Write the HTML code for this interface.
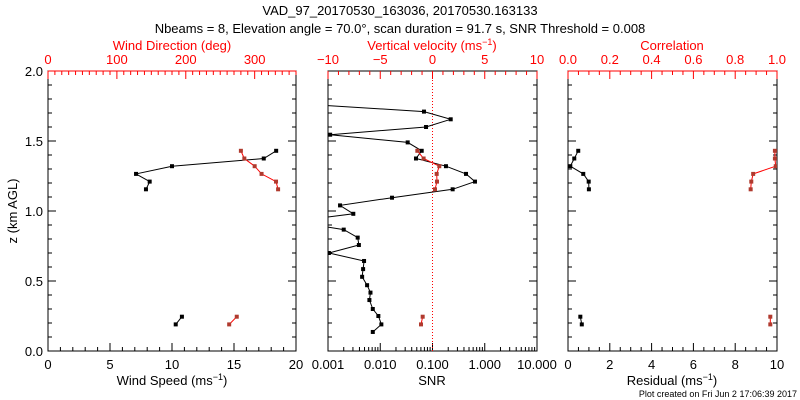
<!DOCTYPE html>
<html><head><meta charset="utf-8"><style>
html,body{margin:0;padding:0;background:#fff;}
svg{display:block;font-family:"Liberation Sans",sans-serif;}
text{font-size:13px;}
</style></head><body>
<svg id="c" width="800" height="400" xmlns="http://www.w3.org/2000/svg">
<text x="400" y="15" text-anchor="middle">VAD_97_20170530_163036, 20170530.163133</text>
<text x="400" y="33" text-anchor="middle">Nbeams = 8, Elevation angle = 70.0°, scan duration = 91.7 s, SNR Threshold = 0.008</text>
<text x="17" y="211" text-anchor="middle" transform="rotate(-90 17 211)">z (km AGL)</text>
<text x="797" y="397" text-anchor="end" style="font-size:9px">Plot created on Fri Jun  2 17:06:39 2017</text>
</svg>
<script>
// Data
const zWind = [1.43,1.375,1.32,1.265,1.21,1.155,0.245,0.19];
const windSpeed = [18.4,17.4,10.0,7.1,8.2,7.9,10.8,10.3];
const windDir = [280,285,300,310,331,334,274,263];
const zSnr = [1.76,1.71,1.655,1.60,1.545,1.49,1.43,1.375,1.32,1.265,1.21,1.155,1.095,1.04,0.98,0.925,0.867,0.81,0.757,0.70,0.643,0.585,0.53,0.47,0.417,0.364,0.30,0.25,0.19,0.136];
const snr = [0.0005,0.0687,0.223,0.0752,0.0011,0.0335,0.0621,0.0483,0.181,0.438,0.65,0.243,0.0168,0.0017,0.00305,0.0002,0.002,0.0037,0.0039,0.00104,0.0049,0.0047,0.0045,0.0056,0.0065,0.0062,0.0072,0.0092,0.0105,0.0072];
const vertVel = [-1.45,-0.85,0.65,0.4,0.43,0.24,-0.94,-1.1];
const residual = [0.49,0.30,0.11,0.73,0.99,1.0,0.59,0.66];
const correlation = [0.99,0.99,0.994,0.886,0.877,0.874,0.968,0.968];
const segs = [[0,6],[6,8]]; // profile segments

const svg = document.getElementById('c');
const NS = 'http://www.w3.org/2000/svg';
const RED = '#ff0000', MRED = '#b03a2e';
const yTop = 71, yBot = 351;
const yS = z => yBot - (z/2.0)*(yBot-yTop);
function el(tag, a, parent){const e=document.createElementNS(NS,tag);for(const k in a)e.setAttribute(k,a[k]);(parent||svg).appendChild(e);return e;}
function txt(x,y,s,col,anchor){const t=el('text',{x:x,y:y,fill:col,'text-anchor':anchor||'middle'});t.textContent=s;return t;}

const panels = [
 {name:'wind', x0:48, x1:296},
 {name:'snr', x0:328, x1:537},
 {name:'fit', x0:568, x1:777}
];
panels.forEach(p=>{
  const f=el('rect',{x:p.x0,y:yTop,width:p.x1-p.x0,height:yBot-yTop,fill:'none',stroke:'#000','stroke-width':1});
  
  
  // y ticks
  for(let i=0;i<=20;i++){const z=i*0.1,y=yS(z),L=(i%5==0)?8:4;
    el('line',{x1:p.x0,x2:p.x0+L,y1:y,y2:y,stroke:'#000'});
    el('line',{x1:p.x1,x2:p.x1-L,y1:y,y2:y,stroke:'#000'});
    if(p.name==='wind'&&i%5==0){const t=txt(p.x0-5,y+5,z.toFixed(1),'#000','end');
      
      }
  }
});
function linAxis(x0,x1,lo,hi,major,minor,top,col,fmt,labelMax){
  const sx=v=>x0+(v-lo)/(hi-lo)*(x1-x0);
  const yb=top?yTop:yBot, d=top?1:-1;
  const n=Math.round((hi-lo)/minor);
  for(let i=0;i<=n;i++){const v=lo+i*minor,x=sx(v);const isMaj=Math.abs(v/major-Math.round(v/major))<1e-6;
    el('line',{x1:x,x2:x,y1:yb,y2:yb+d*(isMaj?8:4),stroke:col});}
  const nm=Math.round((hi-lo)/major);
  for(let i=0;i<=nm;i++){const v=lo+i*major;if(labelMax!==undefined&&v>labelMax)continue;
    const t=txt(sx(v),top?64:369,fmt(v),col);
    
    }
  return sx;
}
// wind panel axes
const sWS=linAxis(48,296,0,20,5,1,false,'#000',v=>String(v));
const sWD=(()=>{const f=v=>48+v/360*248;
  for(let v=0;v<=360;v+=10){const x=f(v);el('line',{x1:x,x2:x,y1:yTop,y2:yTop+(v%100==0?8:4),stroke:RED});}
  el('line',{x1:48,x2:296,y1:yTop,y2:yTop,stroke:RED});
  [0,100,200,300].forEach(v=>{const t=txt(f(v),64,String(v),RED);
    
    });
  return f;})();
// snr panel axes
const sW=linAxis(328,537,-10,10,5,1,true,RED,v=>v<0?'\u2212'+(-v):String(v));
const lx0=328,lx1=537;
const sSNR=v=>lx0+(Math.log10(v)+3)/4*(lx1-lx0);
for(let e=-3;e<1;e++)for(let m=1;m<10;m++){const x=sSNR(m*Math.pow(10,e));el('line',{x1:x,x2:x,y1:yBot,y2:yBot-(m==1?8:4),stroke:'#000'});}
['0.001','0.010','0.100','1.000','10.000'].forEach((s,i)=>{const t=txt(sSNR(Math.pow(10,i-3)),369,s,'#000');
  
  });
const dl=el('line',{x1:sSNR(0.1),x2:sSNR(0.1),y1:yTop,y2:yBot,stroke:RED,'stroke-dasharray':'1,2'});


// fit panel axes
const sRes=linAxis(568,777,0,10,2,0.5,false,'#000',v=>String(v));
const sCor=linAxis(568,777,0,1,0.2,0.05,true,RED,v=>v.toFixed(1));
el('line',{x1:568,x2:777,y1:yTop,y2:yTop,stroke:RED});

// axis titles
[[172,50,'Wind Direction (deg)',RED,'wind-direction-title'],[432,50,'Vertical velocity (ms',RED,'vertical-velocity-title'],[672,50,'Correlation',RED,'correlation-title'],
 [172,385,'Wind Speed (ms',"#000",'wind-speed-title'],[432,385,'SNR',"#000",'snr-title'],[672,385,'Residual (ms',"#000",'residual-title']].forEach(a=>{
  const t=txt(a[0],a[1],'',a[3]);
  
  
  if(a[2].endsWith('(ms')){t.textContent=a[2];const s=el('tspan',{dy:-5,style:'font-size:9px'},t);s.textContent='\u22121';const s2=el('tspan',{dy:5},t);s2.textContent=')';}
  else t.textContent=a[2];
});

// clip paths
panels.forEach(p=>{const cp=el('clipPath',{id:'cp-'+p.name});el('rect',{x:p.x0,y:yTop,width:p.x1-p.x0,height:yBot-yTop},cp);});

function series(xs,zs,sx,col,mcol,name,clip,segments){
  const g=el('g',{'clip-path':'url(#cp-'+clip+')'});
  
  
  (segments||[[0,xs.length]]).forEach(s=>{
    const pts=[];for(let i=s[0];i<s[1];i++)pts.push(sx(xs[i]).toFixed(1)+','+yS(zs[i]).toFixed(1));
    el('polyline',{points:pts.join(' '),fill:'none',stroke:col,'stroke-width':1},g);
    for(let i=s[0];i<s[1];i++){const r=el('rect',{x:sx(xs[i])-2,y:yS(zs[i])-2,width:4,height:4,fill:mcol},g);
      
      }
  });
}
series(windSpeed,zWind,sWS,'#000','#000','wind-speed-series','wind',segs);
series(windDir,zWind,sWD,RED,MRED,'wind-direction-series','wind',segs);
series(snr,zSnr,sSNR,'#000','#000','snr-series','snr');
series(vertVel,zWind,sW,RED,MRED,'vertical-velocity-series','snr',segs);
series(residual,zWind,sRes,'#000','#000','residual-series','fit',segs);
series(correlation,zWind,sCor,RED,MRED,'correlation-series','fit',segs);
</script>
</body></html>
